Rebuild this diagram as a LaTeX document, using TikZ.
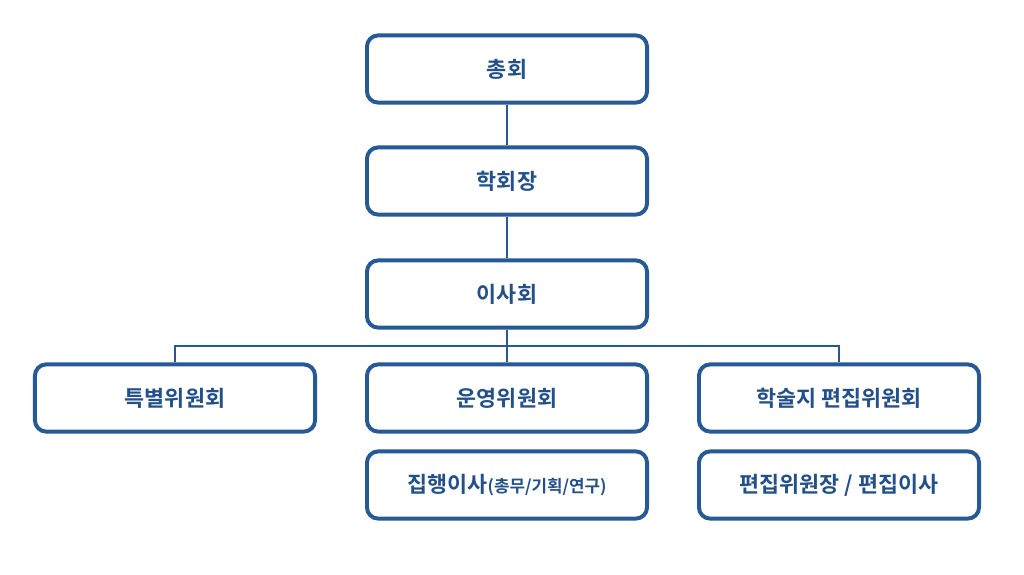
\documentclass[tikz,border=0pt]{standalone}
\usepackage{fontspec}
\setmainfont{Noto Sans CJK KR}
\newfontfamily\kor[BoldFont={* Bold}]{Noto Sans CJK KR}
\usetikzlibrary{positioning}
\definecolor{orgblue}{RGB}{38,90,150}
\definecolor{textblue}{RGB}{34,80,140}
\begin{document}
\begin{tikzpicture}[x=0.025cm, y=-0.025cm,
        unit/.style={rectangle, draw=orgblue, line width=2.8pt, fill=white, rounded corners=8pt, minimum width=7.0cm, minimum height=1.68cm, align=center, font=\kor\bfseries\fontsize{15.5}{18}\selectfont, text=textblue},
        link/.style={orgblue, line width=0.9pt}
    ]
        \useasboundingbox (0,0) rectangle (1024,574);
        \node[unit] (assembly) at (507,69) {총회};
        \node[unit] (president) at (507,181) {학회장};
        \node[unit] (board) at (507,294) {이사회};
        \node[unit] (special) at (175,398) {특별위원회};
        \node[unit] (operation) at (507,398) {운영위원회};
        \node[unit] (journal) at (839,398) {학술지 편집위원회};
        \node[unit] (executive) at (507,485) {집행이사{\fontsize{12}{14}\selectfont(총무/기획/연구)}};
        \node[unit] (editors) at (839,485) {편집위원장 / 편집이사};
        \coordinate (split) at (507,346);

        \draw[link] (assembly) -- (president);
        \draw[link] (president) -- (board);
        \draw[link] (board) -- (operation);
        \draw[link] (special) |- (split) -| (journal);
    \end{tikzpicture}
\end{document}
